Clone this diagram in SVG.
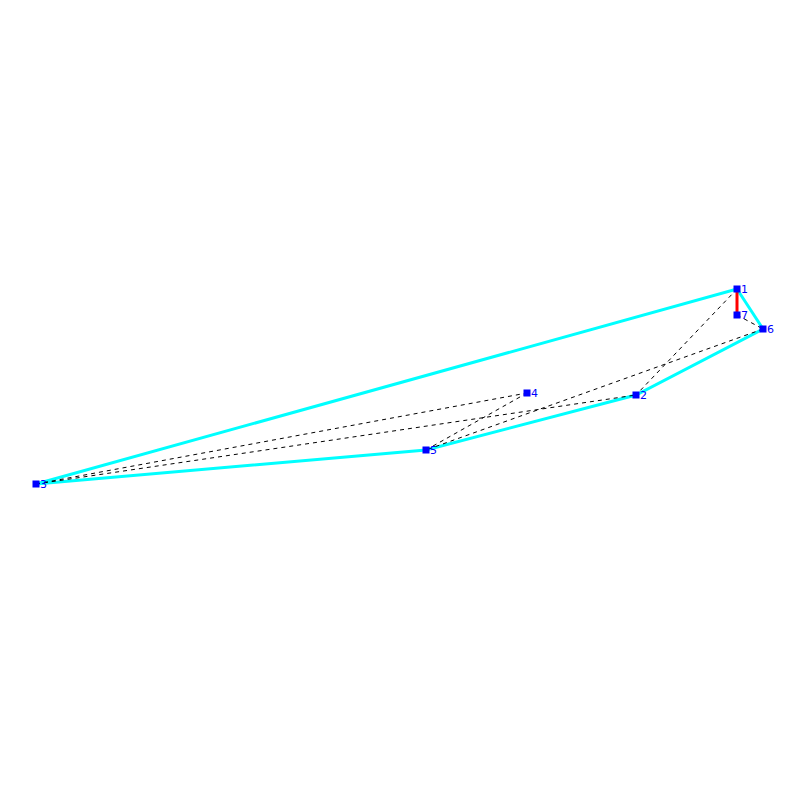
<svg xmlns="http://www.w3.org/2000/svg" width="800" height="800" viewBox="0 0 800 800">
<style>
.hull{stroke:#00ffff;stroke-width:3;fill:none}
.dash{stroke:#000;stroke-width:1;stroke-dasharray:4,4;fill:none}
.red{stroke:#ff0000;stroke-width:3}
.pt{fill:#0000ff}
.lbl{fill:#0000ff;font-family:"DejaVu Sans",sans-serif;font-size:11px}
</style>
<rect width="800" height="800" fill="#fff"/>
<g id="connectors">
<polygon class="hull" points="737,289 763,329 636,395 426,450 36,484"/>
<line class="dash" x1="737" y1="289" x2="636" y2="395"/>
<line class="dash" x1="737" y1="315" x2="763" y2="329"/>
<line class="dash" x1="763" y1="329" x2="426" y2="450"/>
<line class="dash" x1="36" y1="484" x2="527" y2="393"/>
<line class="dash" x1="36" y1="484" x2="636" y2="395"/>
<line class="dash" x1="426" y1="450" x2="527" y2="393"/>
<line class="red" x1="737" y1="289" x2="737" y2="315"/>
</g>
<g id="n1"><rect class="pt" x="733.5" y="285.5" width="7" height="7"/><text class="lbl" x="741" y="293">1</text></g>
<g id="n2"><rect class="pt" x="632.5" y="391.5" width="7" height="7"/><text class="lbl" x="640" y="399">2</text></g>
<g id="n3"><rect class="pt" x="32.5" y="480.5" width="7" height="7"/><text class="lbl" x="40" y="488">3</text></g>
<g id="n4"><rect class="pt" x="523.5" y="389.5" width="7" height="7"/><text class="lbl" x="531" y="397">4</text></g>
<g id="n5"><rect class="pt" x="422.5" y="446.5" width="7" height="7"/><text class="lbl" x="430" y="454">5</text></g>
<g id="n6"><rect class="pt" x="759.5" y="325.5" width="7" height="7"/><text class="lbl" x="767" y="333">6</text></g>
<g id="n7"><rect class="pt" x="733.5" y="311.5" width="7" height="7"/><text class="lbl" x="741" y="319">7</text></g>
</svg>
